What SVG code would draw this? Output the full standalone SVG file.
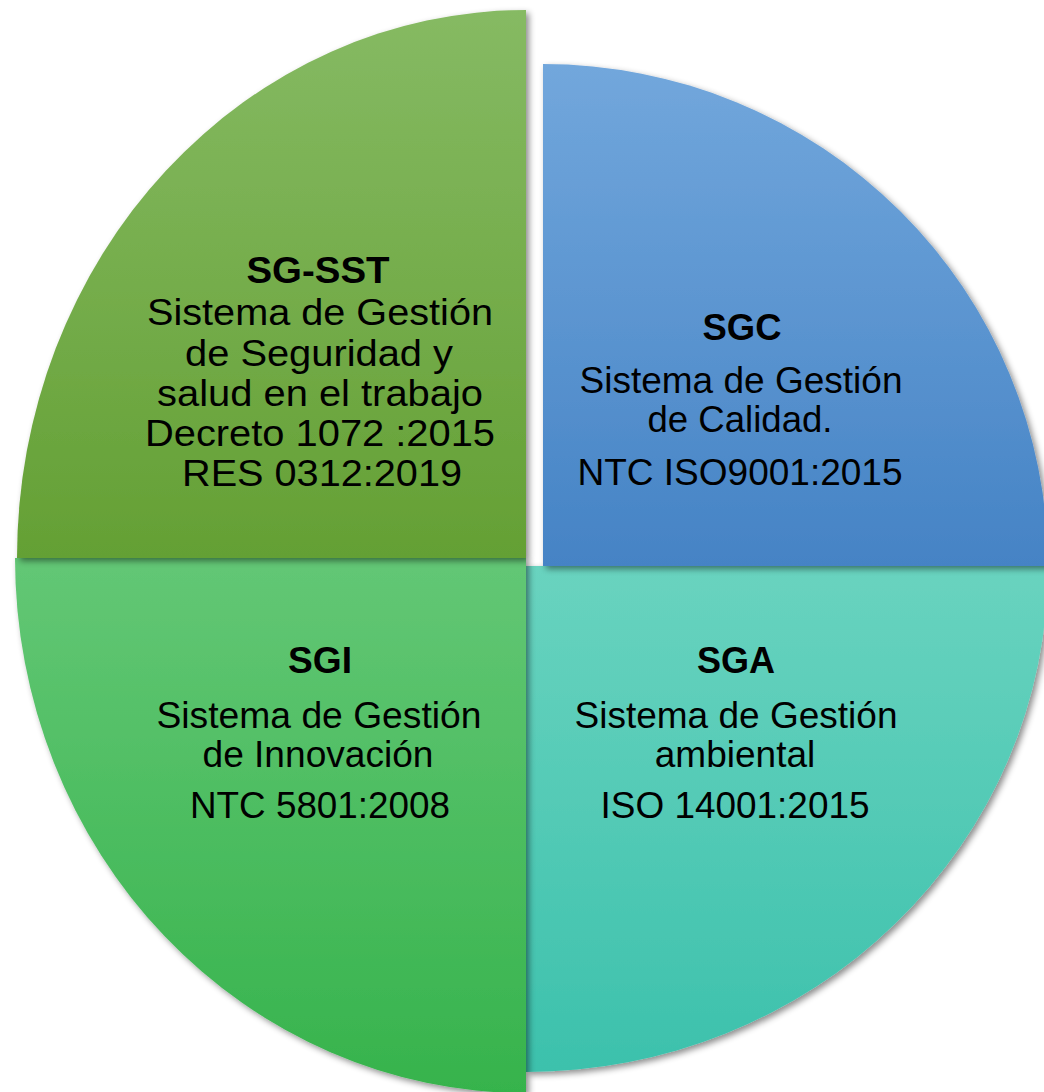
<svg xmlns="http://www.w3.org/2000/svg" width="1044" height="1092" viewBox="0 0 1044 1092">
<defs>
<linearGradient id="gTL" x1="0" y1="0" x2="0" y2="1"><stop offset="0" stop-color="#86ba63"/><stop offset="1" stop-color="#64a034"/></linearGradient>
<linearGradient id="gTR" x1="0" y1="0" x2="0" y2="1"><stop offset="0" stop-color="#72a7dc"/><stop offset="1" stop-color="#4583c5"/></linearGradient>
<linearGradient id="gBR" x1="0" y1="0" x2="0" y2="1"><stop offset="0" stop-color="#69d3bf"/><stop offset="1" stop-color="#3cc1ac"/></linearGradient>
<linearGradient id="gBL" x1="0" y1="0" x2="0" y2="1"><stop offset="0" stop-color="#63c775"/><stop offset="1" stop-color="#36b34c"/></linearGradient>
<filter id="sh" x="-10%" y="-10%" width="120%" height="120%"><feDropShadow dx="3" dy="3" stdDeviation="3" flood-color="#000" flood-opacity="0.45"/></filter>
</defs>
<style>
text{font-family:"Liberation Sans",Arial,sans-serif;fill:#000;text-anchor:middle}
.t{font-size:37px}
.b{font-size:36px;font-weight:bold}
.u{font-size:36.5px}
.s{filter:url(#sh)}
</style>
<rect width="1044" height="1092" fill="#fff"/>
<g id="SGA">
<path class="s" d="M526,566 L1048,566 A522,506 0 0 1 526,1072 Z" fill="url(#gBR)"/>
<text class="b" x="736" y="673" textLength="78" lengthAdjust="spacingAndGlyphs">SGA</text>
<text class="t" x="736" y="728" textLength="323" lengthAdjust="spacingAndGlyphs">Sistema de Gestión</text>
<text class="t" x="735" y="767">ambiental</text>
<text class="t" x="735" y="818" textLength="269" lengthAdjust="spacingAndGlyphs">ISO 14001:2015</text>
</g>
<g id="SGI">
<path class="s" d="M526,558 L526,1093 A511,535 0 0 1 15,558 Z" fill="url(#gBL)"/>
<text class="b" x="320" y="673" textLength="64" lengthAdjust="spacingAndGlyphs">SGI</text>
<text class="t" x="319" y="728" textLength="325" lengthAdjust="spacingAndGlyphs">Sistema de Gestión</text>
<text class="t" x="318" y="767" textLength="231" lengthAdjust="spacingAndGlyphs">de Innovación</text>
<text class="t" x="320" y="818" textLength="260" lengthAdjust="spacingAndGlyphs">NTC 5801:2008</text>
</g>
<g id="SGC">
<path class="s" d="M543,566 L543,64 A505,502 0 0 1 1048,566 Z" fill="url(#gTR)"/>
<text class="b" x="742" y="340" textLength="79" lengthAdjust="spacingAndGlyphs">SGC</text>
<text class="t" x="741" y="393" textLength="323" lengthAdjust="spacingAndGlyphs">Sistema de Gestión</text>
<text class="t" x="740" y="432" textLength="185" lengthAdjust="spacingAndGlyphs">de Calidad.</text>
<text class="t" x="740" y="485" textLength="325" lengthAdjust="spacingAndGlyphs">NTC ISO9001:2015</text>
</g>
<g id="SG-SST">
<path class="s" d="M526,558 L17,558 A509,548 0 0 1 526,10 Z" fill="url(#gTL)"/>
<text class="b" x="318" y="283" font-size="37" textLength="143" lengthAdjust="spacingAndGlyphs">SG-SST</text>
<text class="u" x="320" y="325" textLength="346" lengthAdjust="spacingAndGlyphs">Sistema de Gestión</text>
<text class="u" x="319" y="366" textLength="268" lengthAdjust="spacingAndGlyphs">de Seguridad y</text>
<text class="u" x="320" y="406" textLength="326" lengthAdjust="spacingAndGlyphs">salud en el trabajo</text>
<text class="u" x="320" y="446" textLength="350" lengthAdjust="spacingAndGlyphs">Decreto 1072 :2015</text>
<text class="u" x="322" y="486" textLength="280" lengthAdjust="spacingAndGlyphs">RES 0312:2019</text>
</g>
<g id="connectors"/>
</svg>
